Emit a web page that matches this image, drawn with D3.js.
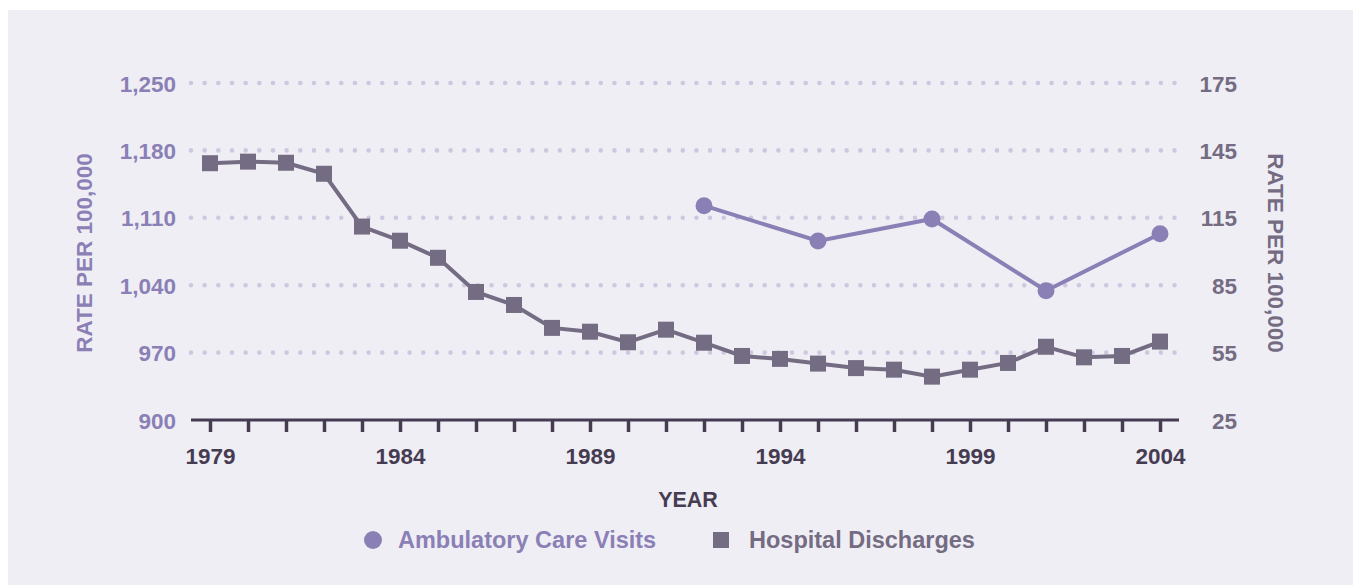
<!DOCTYPE html>
<html><head><meta charset="utf-8">
<script src="https://cdn.jsdelivr.net/npm/d3@7"></script>
<style>
html,body{margin:0;padding:0;background:#fff;}
svg{display:block;}
text{font-family:"Liberation Sans",Arial,Helvetica,sans-serif;font-weight:bold;}
</style></head>
<body>
<svg id="chart" width="1353" height="585"></svg>
<script>
const years = d3.range(1979, 2005);
const leftTicks = [900, 970, 1040, 1110, 1180, 1250];
const rightTicks = [25, 55, 85, 115, 145, 175];
const yearLabels = [1979, 1984, 1989, 1994, 1999, 2004];
const ambulatoryYears = [1992, 1995, 1998, 2001, 2004];
const ambulatoryValues = [1122.6, 1085.9, 1108.8, 1034.3, 1093.5];
const hospitalValues = [139.3, 140.0, 139.5, 134.6, 111.1, 104.8, 97.2, 82.0, 76.2, 66.0,
  64.3, 59.6, 65.2, 59.4, 53.5, 52.2, 50.1, 48.1, 47.4, 44.3, 47.4, 50.4, 57.6, 52.9, 53.5, 59.9];

const purple = "#8a80b5", grey = "#746c82", dark = "#463c52", gridC = "#cdc8e0";
const svg = d3.select("#chart");
svg.append("rect").attr("x", 8).attr("y", 10).attr("width", 1345).attr("height", 575).attr("fill", "#f0eef5");

const x = d3.scaleLinear().domain([1978.5, 2004.5]).range([191, 1179]);
const yL = d3.scaleLinear().domain([900, 1250]).range([420, 83]);
const yR = d3.scaleLinear().domain([25, 175]).range([420, 83]);

// gridlines
svg.append("g").selectAll("line").data(leftTicks.slice(1)).join("line")
  .attr("x1", 191).attr("x2", 1175)
  .attr("y1", d => yL(d)).attr("y2", d => yL(d))
  .attr("stroke", gridC).attr("stroke-width", 4.6).attr("stroke-linecap", "round")
  .attr("stroke-dasharray", "0,13.66");

// left axis labels
const gl = svg.append("g").attr("transform", "translate(176,0)")
  .call(d3.axisLeft(yL).tickValues(leftTicks).tickSize(0).tickPadding(0).tickFormat(d3.format(",")));
gl.select(".domain").remove();
gl.selectAll("text").attr("fill", purple).attr("font-size", 22.5).attr("font-family", null).attr("dy", "0.36em");

// right axis labels
const gr = svg.append("g").attr("transform", "translate(1237,0)")
  .call(d3.axisRight(yR).tickValues(rightTicks).tickSize(0).tickPadding(0));
gr.select(".domain").remove();
gr.selectAll("text").attr("fill", grey).attr("font-size", 22.5).attr("font-family", null)
  .attr("text-anchor", "end").attr("dy", "0.36em");

// x axis
const gx = svg.append("g").attr("transform", "translate(0,420)")
  .call(d3.axisBottom(x).tickValues(years).tickSize(12).tickSizeOuter(0).tickPadding(16)
    .tickFormat(d => yearLabels.includes(d) ? d : ""));
gx.select(".domain").attr("stroke", dark).attr("stroke-width", 3).attr("d", "M191,0H1179");
gx.selectAll(".tick line").attr("stroke", dark).attr("stroke-width", 3.5);
gx.selectAll("text").attr("fill", dark).attr("font-size", 22.5).attr("font-family", null);

// axis titles
svg.append("text").attr("transform", "translate(92,253) rotate(-90)").attr("text-anchor", "middle")
  .attr("fill", purple).attr("font-size", 22.5).text("RATE PER 100,000");
svg.append("text").attr("transform", "translate(1268,253) rotate(90)").attr("text-anchor", "middle")
  .attr("fill", grey).attr("font-size", 22.5).text("RATE PER 100,000");
svg.append("text").attr("x", 688).attr("y", 507).attr("text-anchor", "middle")
  .attr("fill", dark).attr("font-size", 21.5).text("YEAR");

// hospital discharges
const hosp = years.map((yr, i) => ({yr, v: hospitalValues[i]}));
svg.append("path").datum(hosp)
  .attr("d", d3.line().x(d => x(d.yr)).y(d => yR(d.v)))
  .attr("fill", "none").attr("stroke", grey).attr("stroke-width", 4);
svg.append("g").selectAll("rect").data(hosp).join("rect")
  .attr("x", d => x(d.yr) - 8).attr("y", d => yR(d.v) - 8)
  .attr("width", 16).attr("height", 16).attr("fill", grey);

// ambulatory
const amb = ambulatoryYears.map((yr, i) => ({yr, v: ambulatoryValues[i]}));
svg.append("path").datum(amb)
  .attr("d", d3.line().x(d => x(d.yr)).y(d => yL(d.v)))
  .attr("fill", "none").attr("stroke", purple).attr("stroke-width", 4);
svg.append("g").selectAll("circle").data(amb).join("circle")
  .attr("cx", d => x(d.yr)).attr("cy", d => yL(d.v)).attr("r", 8.5).attr("fill", purple);

// legend
const lg = svg.append("g");
lg.append("circle").attr("cx", 373).attr("cy", 540).attr("r", 9).attr("fill", purple);
lg.append("text").attr("x", 398).attr("y", 548).attr("fill", purple).attr("font-size", 23.5)
  .text("Ambulatory Care Visits");
lg.append("rect").attr("x", 713).attr("y", 532).attr("width", 16).attr("height", 16).attr("fill", grey);
lg.append("text").attr("x", 749).attr("y", 548).attr("fill", grey).attr("font-size", 23.5)
  .text("Hospital Discharges");
</script>
</body></html>
